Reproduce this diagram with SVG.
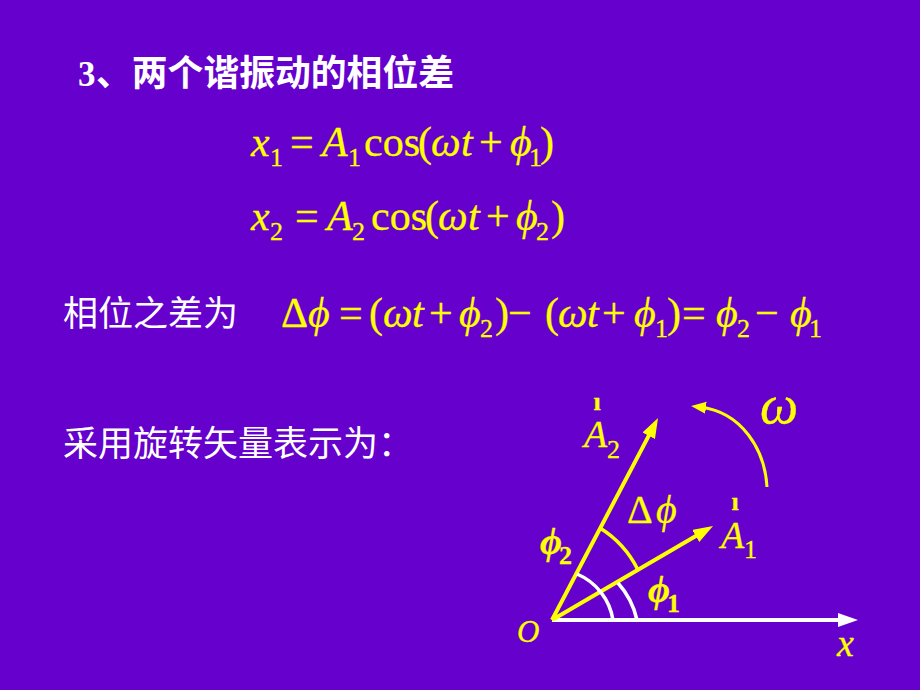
<svg xmlns="http://www.w3.org/2000/svg" width="920" height="690" viewBox="0 0 920 690">
<style>
.cjk{font-family:"Noto Sans CJK SC","Noto Sans",sans-serif;fill:#ffffff;}
.m{font-family:"Liberation Serif","DejaVu Serif",serif;fill:#ffff00;stroke:#ffff00;stroke-width:0.3;font-size:42px;}
.i{font-style:italic;}
.s{font-size:26px;}
.y{stroke:#ffff00;stroke-width:4;fill:none;}
.w{stroke:#ffffff;stroke-width:4;fill:none;}
</style>
<defs>
<marker id="ay" markerUnits="userSpaceOnUse" markerWidth="22" markerHeight="16" refX="10" refY="7" orient="auto"><path d="M0,0 L20,7 L0,14 z" fill="#ffff00"/></marker>
<marker id="aw" markerUnits="userSpaceOnUse" markerWidth="22" markerHeight="16" refX="10" refY="7" orient="auto"><path d="M0,0 L20,7 L0,14 z" fill="#ffffff"/></marker>
<marker id="as" markerUnits="userSpaceOnUse" markerWidth="16" markerHeight="14" refX="6" refY="6" orient="auto"><path d="M0,0 L15,6 L0,12 z" fill="#ffff00"/></marker>
</defs>
<rect width="920" height="690" fill="#6600cc"/>

<g id="title">
<text x="78" y="86" style="font-family:'Liberation Serif',serif;font-weight:bold;font-size:35px;fill:#fff">3</text>
<text x="96" y="86" class="cjk" style="font-weight:bold;font-size:35.8px">、两个谐振动的相位差</text>
</g>

<g id="eq1">
<text class="m i" x="251" y="156">x</text><text class="m s" x="270" y="166">1</text>
<text class="m" x="290" y="156">=</text>
<text class="m i" x="322" y="156">A</text><text class="m s" x="348" y="166">1</text>
<text class="m" x="364" y="156">cos</text><text class="m" x="418" y="156">(</text>
<text class="m i" x="431" y="156">ω</text><text class="m i" x="461" y="156">t</text>
<text class="m" x="479" y="156">+</text>
<text class="m i" x="510" y="156">ϕ</text><text class="m s" x="529" y="166">1</text>
<text class="m" x="540" y="156">)</text>
</g>

<g id="eq2">
<text class="m i" x="251" y="230">x</text><text class="m s" x="270" y="240">2</text>
<text class="m" x="295" y="230">=</text>
<text class="m i" x="327" y="230">A</text><text class="m s" x="352" y="240">2</text>
<text class="m" x="371" y="230">cos</text><text class="m" x="425" y="230">(</text>
<text class="m i" x="438" y="230">ω</text><text class="m i" x="468" y="230">t</text>
<text class="m" x="486" y="230">+</text>
<text class="m i" x="516" y="230">ϕ</text><text class="m s" x="536" y="240">2</text>
<text class="m" x="551" y="230">)</text>
</g>

<g id="phase-diff">
<text class="cjk" x="63" y="326" style="font-size:35px">相位之差为</text>
<text class="m" x="281" y="327">Δ</text><text class="m i" x="308" y="327">ϕ</text>
<text class="m" x="339" y="327">=</text>
<text class="m" x="369" y="327">(</text>
<text class="m i" x="383" y="327">ω</text><text class="m i" x="412" y="327">t</text>
<text class="m" x="429" y="327">+</text>
<text class="m i" x="459" y="327">ϕ</text><text class="m s" x="480" y="337">2</text>
<text class="m" x="495" y="327">)</text>
<text class="m" x="508" y="327">−</text>
<text class="m" x="545" y="327">(</text>
<text class="m i" x="558" y="327">ω</text><text class="m i" x="587" y="327">t</text>
<text class="m" x="602" y="327">+</text>
<text class="m i" x="634" y="327">ϕ</text><text class="m s" x="655" y="337">1</text>
<text class="m" x="667" y="327">)</text>
<text class="m" x="682" y="327">=</text>
<text class="m i" x="716" y="327">ϕ</text><text class="m s" x="737" y="337">2</text>
<text class="m" x="755" y="327">−</text>
<text class="m i" x="790" y="327">ϕ</text><text class="m s" x="809" y="337">1</text>
</g>

<g id="rotation-label">
<text class="cjk" x="63" y="456" style="font-size:35px">采用旋转矢量表示为：</text>
</g>

<g id="connectors">
<line class="w" x1="552" y1="620" x2="848" y2="620" marker-end="url(#aw)"/>
<line class="y" x1="552" y1="620" x2="653.4" y2="426.9" marker-end="url(#ay)"/>
<line class="y" x1="552" y1="620" x2="704.4" y2="531" marker-end="url(#ay)"/>
<path class="y" style="stroke-width:3" d="M 767 487 C 765 450 742 412 700 407" marker-end="url(#as)"/>
<path class="y" style="stroke-width:3.5" d="M 600 528 A 103 103 0 0 1 638 570"/>
<path class="w" style="stroke-width:3.5" d="M 577 574 A 60 60 0 0 1 613 620"/>
<path class="w" style="stroke-width:3.5" d="M 618 583 A 82 82 0 0 1 637 620"/>
</g>

<g id="labels">
<text class="m i" x="779" y="423" style="font-size:54px" text-anchor="middle">ω</text>
<text class="m" x="597" y="410" style="font-size:26px;font-weight:bold" text-anchor="middle">ı</text>
<text class="m i" x="584" y="447" style="font-size:38px">A</text><text class="m s" x="607" y="458">2</text>
<text class="m" x="735" y="510" style="font-size:26px;font-weight:bold" text-anchor="middle">ı</text>
<text class="m i" x="721" y="548" style="font-size:38px">A</text><text class="m s" x="744" y="558">1</text>
<text class="m" x="627" y="523" style="font-size:40px">Δ</text><text class="m i" x="656" y="523" style="font-size:40px">ϕ</text>
<text class="m i" x="540" y="554" style="font-size:38px;font-weight:bold">ϕ</text><text class="m s" x="559" y="564" style="font-weight:bold">2</text>
<text class="m i" x="648" y="602" style="font-size:38px;font-weight:bold">ϕ</text><text class="m s" x="667" y="612" style="font-weight:bold">1</text>
<text class="m i" x="517" y="642" style="font-size:31px">O</text>
<text class="m i" x="837" y="656" style="font-size:38px">x</text>
</g>
</svg>
